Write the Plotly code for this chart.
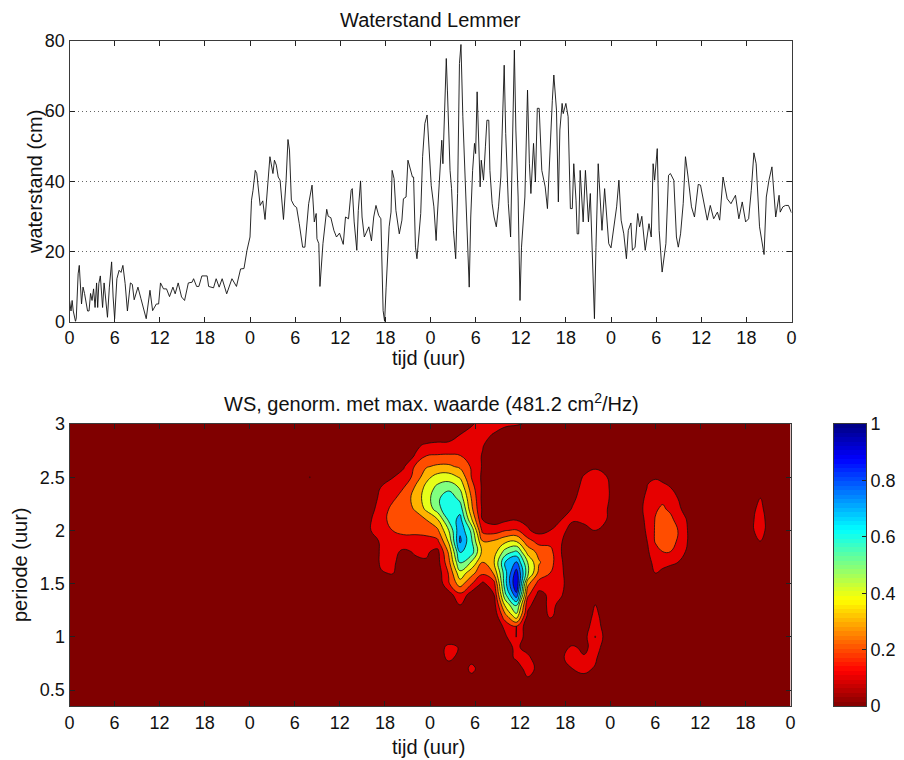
import numpy as np
import plotly.graph_objects as go

# ---------- top panel data (hours, cm) ----------
time_h = [0,.2,.35,.5,.8,.9,1.15,1.3,1.6,1.8,2,2.4,2.6,2.8,3,3.2,3.4,3.6,3.75,3.9,4.1,4.4,4.6,4.8,5.05,5.3,5.6,5.8,6,6.3,6.6,6.85,7.1,7.4,7.7,8.1,8.35,8.6,9.1,9.5,9.8,10.2,10.7,11.05,11.55,11.85,12.1,12.5,12.9,13.3,13.75,14.05,14.45,14.9,15.3,15.8,16.3,16.5,16.9,17.2,17.6,18.3,18.5,19.15,19.5,19.9,20.3,20.9,21.6,22.2,22.75,23.2,23.6,
24,24.2,24.4,24.7,24.9,25.35,25.7,26,26.3,26.65,27.05,27.25,27.5,27.75,28,28.45,28.8,29.05,29.25,29.5,29.85,30.2,30.55,31,31.3,31.8,32.25,32.55,32.8,32.9,33.15,33.3,33.7,33.95,34.2,34.4,34.75,35.15,35.5,35.9,36.4,36.7,37.1,37.45,37.6,37.85,38.2,38.4,38.7,38.9,39.2,39.8,40.15,40.45,40.75,41.1,41.4,41.7,41.9,42.1,42.3,42.5,42.75,42.9,43.15,43.4,43.85,44.2,44.4,44.75,45,45.25,45.6,45.75,46,46.2,46.7,46.95,47.25,47.55,
47.95,48.1,48.45,48.75,48.9,49.25,49.5,49.65,49.9,50.1,50.25,50.6,50.8,51.05,51.35,51.6,51.85,52.05,52.3,52.6,52.85,53.15,53.35,53.6,53.85,54,54.2,54.4,54.6,54.75,55.05,55.3,55.5,55.75,55.9,56.2,56.45,56.75,57.05,57.35,57.6,57.8,58,58.35,58.65,58.95,59.15,59.35,59.65,59.9,60.1,60.55,60.9,61.15,61.35,61.7,61.95,62.2,62.45,62.8,63.25,63.55,63.9,64.2,64.4,64.75,65,65.2,65.5,65.65,66,66.3,66.6,66.85,67.05,67.35,67.5,67.7,67.9,68.3,68.6,68.85,69,69.25,69.5,69.7,69.8,
70,70.3,70.55,70.8,71.15,71.4,71.7,72,72.35,72.75,73.05,73.35,73.7,74.05,74.3,74.65,74.85,75.2,75.55,75.8,76.1,76.55,77.05,77.35,77.6,77.8,78.15,78.4,78.8,79.3,79.65,79.9,80.35,80.7,80.95,81.25,81.6,81.9,82.25,82.7,83.1,83.6,83.9,84.25,84.8,85.2,85.65,86.15,86.45,86.9,87.45,87.95,88.55,89,89.45,89.9,90.3,90.65,91,91.3,91.75,92.35,92.65,93,93.4,93.9,94.35,94.5,94.85,95.2,95.6,96]
level_cm = [6,3,6,3,0,1,13.6,16,5,9.8,8,3,3,8,6,9.3,4,11,4,10.8,13,4,11,7,1.2,9.8,17,7,.8,12.2,14.6,14,16,10.8,3,11,10.6,6.2,9.8,6.5,4,.8,8.9,3.1,5,5,11,9.3,9.3,7.1,9.8,7.9,11,7,6,11,11.2,12.2,10,10,13,13,10,9.6,12.2,9.8,12.2,7.9,12.2,10,15,15.1,20.3,
24.1,34.6,37.4,43.1,42.2,33.1,34.4,29.1,37.4,47,42.2,46,44.6,41.2,40.3,29.1,40.3,51.9,48.9,34.6,33.1,32.5,27.9,21.2,21.2,33.6,38.9,28.4,30.8,23.6,22.2,10,22.2,27.9,32,30,29.6,26,24.1,25.2,22,29.8,29.3,37.4,37.9,28.4,20.3,31.7,40.1,29.8,24.1,27,23,29.8,33.1,30.3,29.3,3.1,0,9.8,20.3,27,31.2,43.1,40.8,31.7,25,28.9,35,35.5,46,44.1,41.2,41.2,21.2,17.9,30.8,47,56.5,58.9,
46.3,38.7,32.7,23.1,29.8,43.1,51.7,45,66,75,66,43.1,37.9,26,17.9,36.5,73.6,79,58.4,41.2,22.2,9.8,29.8,43.1,50.8,47.9,65.5,52.7,38.4,46,40.3,49.8,57.4,57.4,43.1,33.6,29.8,27,32.7,41.2,60.3,73.1,53.6,33.6,24.1,54.6,77.4,54.6,35.5,6,21.2,35.5,66,45,36.5,50.8,39.8,60.8,60.8,43.1,38.4,32.2,51.7,63.1,70.3,60.3,34.1,54.6,62.2,59.3,62.2,58.4,32.2,32.2,45,34.6,25,25,43.1,28.4,43.1,31.7,28.4,36.5,20.3,8.9,.8,
21.2,45,35.5,26,37.9,29.8,22.2,21,26,32.7,40.3,28.9,25,17.9,26,28.1,20.3,21.2,30.8,27,30,20.3,27.9,24.1,45,40.3,49.3,26,14.1,22.2,41.7,42.2,40.3,24.1,21.2,25,33.6,47,41.2,32.7,29.8,39.1,38.9,34.6,28.9,33.1,29.3,31.2,28.9,41.2,35,33.6,36,29.3,34.1,28.4,29.3,37.4,48.1,45,27,19.1,35.5,40.3,44.1,29.8,36,31.2,32.7,33.1,33.1,31]

day_ticks = [0,6,12,18,24,30,36,42,48,54,60,66,72,78,84,90,96]
day_labels = ["0","6","12","18","0","6","12","18","0","6","12","18","0","6","12","18","0"]

# ---------- bottom panel data ----------
period_rows = [3.0,2.9,2.8,2.7,2.6,2.5,2.4,2.3,2.2,2.1,2.0,1.9,1.8,1.7,1.6,1.5,1.4,1.3,1.2,1.1,1.0,.9,.8,.7,.6,.5,.35]
main_hours = [40,41.5,43,44.5,46,47.5,49,50.5,52,53.5,55,56.5,58,59.5,61,62.5,64,65.5,67,68.5,70,71.5,73]
main_power = [
[0,0,0,0,0,0,0,.02,.06,.09,.13,.13,.12,.11,.09,.03,0,0,0,0,0,0,0],
[0,0,0,0,0,.02,.04,.06,.10,.13,.12,.095,.05,.03,.01,0,0,0,0,0,0,0,0],
[0,0,0,.02,.08,.115,.125,.12,.13,.13,.105,.06,.03,.01,0,0,0,0,0,0,0,0,0],
[0,0,.02,.05,.105,.2,.21,.215,.205,.14,.095,.04,.01,0,0,0,0,0,0,0,0,0,0],
[0,.01,.04,.09,.21,.29,.32,.32,.28,.19,.09,.03,0,0,0,0,0,0,.01,.08,.09,.04,0],
[.02,.05,.095,.14,.23,.37,.44,.45,.39,.2,.08,.02,0,0,0,0,0,.01,.07,.105,.13,.105,.04],
[.05,.105,.15,.2,.31,.43,.53,.57,.49,.25,.08,.02,0,0,0,0,0,.03,.08,.115,.14,.115,.05],
[.06,.12,.18,.25,.33,.45,.58,.67,.57,.3,.07,.01,0,.01,.01,0,.01,.05,.09,.125,.15,.115,.05],
[.07,.14,.23,.27,.305,.42,.55,.7,.66,.33,.08,.01,.02,.04,.03,.01,.03,.07,.105,.13,.15,.105,.04],
[.09,.16,.24,.26,.27,.3,.39,.62,.74,.42,.1,.06,.08,.095,.08,.05,.06,.1,.105,.12,.13,.1,.03],
[.095,.15,.2,.22,.22,.23,.28,.5,.78,.58,.17,.15,.195,.21,.11,.07,.1,.115,.08,.07,.1,.07,.02],
[.05,.115,.16,.17,.17,.17,.18,.42,.82,.62,.3,.31,.37,.39,.24,.16,.17,.105,.04,.01,0,0,0],
[.03,.115,.13,.08,.11,.115,.07,.32,.71,.66,.37,.35,.54,.62,.36,.27,.23,.1,.02,0,0,0,0],
[.01,.12,.13,.03,.08,.09,.06,.27,.61,.49,.3,.39,.7,.81,.5,.31,.24,.11,.02,0,0,0,0],
[0,.09,.11,.02,.02,.03,.04,.21,.47,.34,.22,.31,.66,.95,.53,.27,.2,.12,.01,0,0,0,0],
[0,.01,.03,0,0,0,.02,.19,.35,.21,.08,.16,.66,1.0,.33,.16,.18,.13,.01,0,0,0,0],
[0,0,0,0,0,0,0,.06,.18,.06,.01,.1,.58,.88,.23,.07,.12,.11,.01,0,.05,0,0],
[0,0,0,0,0,0,0,.03,.1,.02,0,.05,.42,.62,.13,.04,.13,.07,0,.01,.1,.02,0],
[0,0,0,0,0,0,0,0,0,0,0,.02,.27,.47,.08,.02,.12,.05,0,.02,.13,.04,0],
[0,0,0,0,0,0,0,0,0,0,0,0,.13,.2,.04,0,.03,0,0,.05,.15,.05,0],
[0,0,0,0,0,0,0,0,0,0,0,0,.08,.205,.03,0,0,0,0,.06,.205,.05,0],
[0,0,0,0,0,0,.03,.14,.09,0,0,.01,.07,.115,.07,.01,0,.06,.12,.07,.15,.04,0],
[0,0,0,0,0,0,.03,.13,.06,.06,.02,.01,.07,.11,.12,.05,0,.09,.13,.115,.115,.02,0],
[0,0,0,0,0,0,0,.02,.02,.13,.05,0,.02,.06,.13,.08,0,.02,.1,.125,.09,0,0],
[0,0,0,0,0,0,0,0,0,.06,.01,0,0,.02,.09,.02,0,0,.03,.07,.01,0,0],
[0]*23,
[0]*23,
]
blob_hours = [76,77,78,79,80,81,82,83]
blob_power = {
2.5:[0,.09,.09,.06,0,0,0,0],
2.4:[.06,.105,.14,.14,.105,.05,0,0],
2.3:[.07,.13,.17,.18,.15,.1,.04,0],
2.2:[.08,.14,.19,.215,.18,.125,.07,0],
2.1:[.07,.13,.205,.25,.23,.16,.11,.04],
2.0:[.06,.12,.21,.26,.24,.2,.12,.05],
1.9:[.05,.105,.21,.26,.24,.19,.12,.05],
1.8:[.03,.09,.16,.2,.2,.16,.1,.03],
1.7:[0,.07,.13,.14,.125,.1,.05,0],
1.6:[0,.04,.1,.07,.04,0,0,0],
}
far_hours = [91,92,93]
far_power = {
2.3:[.04,.102,.03],
2.2:[.085,.125,.06],
2.1:[.095,.13,.08],
2.0:[.095,.13,.08],
1.9:[.04,.102,.03],
}
spot_hour = 32
spot_period = 2.5
spot_power = .105
zero_hours = [0,31,33,38.5,74.5,84,90,94,96]
band_colors = ["#800000","#e60000","#ff4d00","#ffb300","#e6ff1a","#80ff80","#1affe6","#00b3ff","#004dff","#0000e6"]
cbar_ticks = [0,.2,.4,.6,.8,1]
cbar_labels = ["0","0.2","0.4","0.6","0.8","1"]
jet_flipped = [[0,"#800000"],[.125,"#ff0000"],[.375,"#ffff00"],[.625,"#00ffff"],[.875,"#0000ff"],[1,"#000080"]]

# ---------- assemble the grid ----------
hours = sorted(set(main_hours+blob_hours+far_hours+zero_hours+[spot_hour]))
power = np.zeros((len(period_rows), len(hours)))
col = {h:i for i,h in enumerate(hours)}
for r,row in enumerate(main_power):
    for h,v in zip(main_hours,row):
        power[r,col[h]] = v
for p,row in blob_power.items():
    for h,v in zip(blob_hours,row):
        power[period_rows.index(p),col[h]] = v
for p,row in far_power.items():
    for h,v in zip(far_hours,row):
        power[period_rows.index(p),col[h]] = v
power[period_rows.index(spot_period),col[spot_hour]] = spot_power
periods_asc = period_rows[::-1]
power = power[::-1]
cbar_steps = (np.arange(64)+.5)/64

W,H = 904,760
FONT = "Liberation Sans, Arial, sans-serif"
TICK = 18
LABEL = 20
def px(x): return x/W
def py(y): return (H-y)/H

fig = go.Figure()
fig.add_trace(go.Scatter(x=time_h,y=level_cm,mode="lines",line=dict(color="#111111",width=0.9),
                         xaxis="x",yaxis="y",showlegend=False,hoverinfo="skip"))
fig.add_trace(go.Contour(x=hours,y=periods_asc,z=power.tolist(),xaxis="x2",yaxis="y2",
    autocontour=False,contours=dict(start=.1,end=.9,size=.1,coloring="fill",showlines=True),
    colorscale=[[i/9,c] for i,c in enumerate(band_colors)],
    line=dict(color="#101010",width=0.8,smoothing=1.2),showscale=False,hoverinfo="skip"))
fig.add_trace(go.Heatmap(x=[0,1],y=cbar_steps.tolist(),z=[[v,v] for v in cbar_steps],zmin=0,zmax=1,
    colorscale=jet_flipped,showscale=False,xaxis="x3",yaxis="y3",hoverinfo="skip"))

axis_common = dict(showline=True,linecolor="#3a3a3a",linewidth=1,mirror="ticks",ticks="inside",ticklen=5,
                   tickcolor="#222222",tickfont=dict(family=FONT,size=TICK,color="#111111"),zeroline=False)
layout = dict(width=W,height=H,margin=dict(l=0,r=0,t=0,b=0,pad=0,autoexpand=False),paper_bgcolor="white",plot_bgcolor="white",showlegend=False,
    xaxis=dict(domain=[px(69.5),px(791.5)],range=[0,96],tickmode="array",tickvals=day_ticks,ticktext=day_labels,showgrid=False,anchor="y",**axis_common),
    yaxis=dict(domain=[py(321.5),py(41)],range=[0,80],tickmode="array",tickvals=[0,20,40,60,80],showgrid=True,
               griddash="1px,3px",gridcolor="#666666",gridwidth=1,anchor="x",**axis_common),
    xaxis2=dict(domain=[px(69.5),px(790.5)],range=[0,96],tickmode="array",tickvals=day_ticks,ticktext=day_labels,showgrid=False,anchor="y2",**axis_common),
    yaxis2=dict(domain=[py(706),py(424)],range=[.35,3],tickmode="array",tickvals=[.5,1,1.5,2,2.5,3],
                ticktext=["0.5","1","1.5","2","2.5","3"],showgrid=False,anchor="x2",**axis_common),
    xaxis3=dict(domain=[px(834),px(866)],range=[0,1],showticklabels=False,ticks="",showgrid=False,zeroline=False,
                showline=True,linecolor="#3a3a3a",mirror=True,anchor="y3"),
    yaxis3=dict(domain=[py(706),py(424)],range=[0,1],side="right",anchor="x3",tickmode="array",tickvals=cbar_ticks,ticktext=cbar_labels,
                ticks="inside",ticklen=4,tickcolor="#222222",showgrid=False,zeroline=False,showline=True,linecolor="#3a3a3a",mirror=True,
                tickfont=dict(family=FONT,size=TICK,color="#111111")),
)
def note(text,x,y,angle=0,size=LABEL):
    return dict(text=text,x=px(x),y=py(y),xref="paper",yref="paper",xanchor="center",yanchor="middle",showarrow=False,
                textangle=angle,font=dict(family=FONT,size=size,color="#111111"))
layout["annotations"] = [
    note("Waterstand Lemmer",430,20),
    note("tijd (uur)",428,358),
    note("waterstand (cm)",35,182,-90),
    note("WS, genorm. met max. waarde (481.2 cm<sup>2</sup>/Hz)",431,402),
    note("tijd (uur)",428,747),
    note("periode (uur)",20,565,-90),
]
fig.update_layout(**layout)
fig.write_html("out.html",config=dict(displayModeBar=False),post_script="document.body.style.margin='0';")
